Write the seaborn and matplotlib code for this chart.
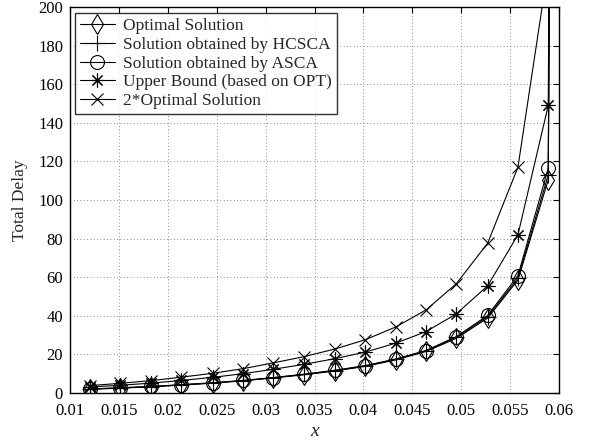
import numpy as np
import pandas as pd
import matplotlib
matplotlib.use("Agg")
import matplotlib.pyplot as plt
import seaborn as sns

# data (last x point lies beyond the axis limit; curves blow up there)
x_vals = [0.0120, 0.0151, 0.0183, 0.0214, 0.0246, 0.0277, 0.0308, 0.0339,
          0.0371, 0.0402, 0.0433, 0.0464, 0.0495, 0.0527, 0.0558, 0.0589, 0.0620]
opt = [1.9, 2.5, 3.2, 4.1, 5.1, 6.3, 7.8, 9.4, 11.4, 13.8, 17.1, 21.5, 28.3, 38.8, 58.5, 110.5, 3000]
hcsca = [2.0, 2.6, 3.3, 4.2, 5.2, 6.4, 7.9, 9.6, 11.6, 14.0, 17.4, 21.8, 28.8, 39.5, 59.5, 113.0, 3000]
asca = [2.1, 2.7, 3.4, 4.3, 5.3, 6.5, 8.0, 9.7, 11.8, 14.2, 17.6, 22.0, 29.2, 40.2, 60.8, 116.5, 3000]
upper = [3.1, 4.0, 5.1, 6.5, 8.1, 10.0, 12.3, 14.8, 17.8, 21.2, 25.8, 31.8, 41.0, 55.5, 82.0, 149.0, 3000]
twice_opt = [3.8, 5.0, 6.4, 8.2, 10.2, 12.6, 15.6, 18.8, 22.8, 27.6, 34.2, 43.0, 56.6, 77.6, 117.0, 221.0, 3000]

series_names = ["Optimal Solution", "Solution obtained by HCSCA",
                "Solution obtained by ASCA", "Upper Bound (based on OPT)",
                "2*Optimal Solution"]
series_vals = [opt, hcsca, asca, upper, twice_opt]
markers = ["d", "+", "o", (8, 2, 0), "x"]
msizes = [10, 11, 10, 10, 8.5]

x_ticks = [0.01, 0.015, 0.02, 0.025, 0.03, 0.035, 0.04, 0.045, 0.05, 0.055, 0.06]
x_tick_labels = ["0.01", "0.015", "0.02", "0.025", "0.03", "0.035", "0.04",
                 "0.045", "0.05", "0.055", "0.06"]
y_ticks = [0, 20, 40, 60, 80, 100, 120, 140, 160, 180, 200]

sns.set_style("white")
plt.rcParams["font.family"] = ["Liberation Serif", "DejaVu Serif"]
plt.rcParams["mathtext.fontset"] = "stix"

fig = plt.figure(figsize=(5.91, 4.45), dpi=100)
ax = fig.add_axes([0.1184, 0.1169, 0.8275, 0.8674])

for name, vals, mk, ms in zip(series_names, series_vals, markers, msizes):
    df = pd.DataFrame({"x": x_vals, "y": vals})
    sns.lineplot(data=df, x="x", y="y", ax=ax, color="black", linewidth=0.8,
                 marker=mk, markersize=ms, markerfacecolor="none",
                 markeredgecolor="black", markeredgewidth=0.8, label=name)

ax.set_xlim(0.01, 0.06)
ax.set_ylim(0, 200)
ax.set_xticks(x_ticks)
ax.set_xticklabels(x_tick_labels)
ax.set_yticks(y_ticks)
ax.grid(True, color="#666666", linestyle=(0, (1, 3)), linewidth=0.6)
ax.tick_params(direction="in", top=True, right=True, length=4, width=0.8,
               labelsize=12, colors="black")
ax.tick_params(axis="x", pad=7)
ax.tick_params(axis="y", pad=5)
for sp in ax.spines.values():
    sp.set_visible(True)
    sp.set_color("black")
    sp.set_linewidth(1.0)

ax.set_xlabel("x", fontsize=14, fontstyle="italic", labelpad=3)
ax.set_ylabel("Total Delay", fontsize=12.5, labelpad=7)

leg = ax.legend(loc="upper left", bbox_to_anchor=(0.01, 0.985), fontsize=12.5,
                frameon=True, fancybox=False, edgecolor="black",
                borderpad=0.3, labelspacing=0.15, handlelength=2.0,
                handletextpad=0.45, borderaxespad=0.0)
leg.get_frame().set_linewidth(1.0)

fig.savefig("out.png", dpi=100)
